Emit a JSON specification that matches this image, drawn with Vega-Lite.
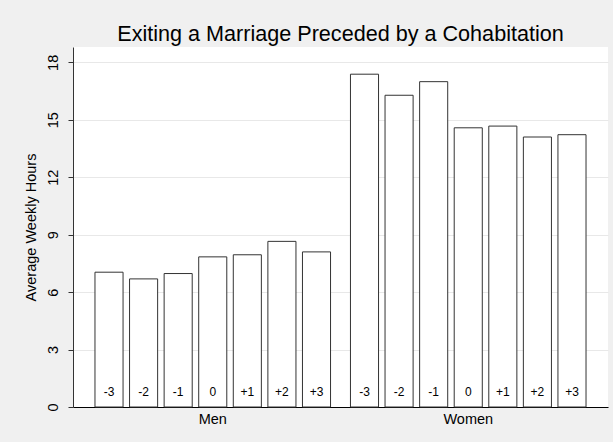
{
  "$schema": "https://vega.github.io/schema/vega-lite/v6.json",
  "width": 535,
  "height": 360,
  "autosize": {"type": "none"},
  "padding": {"left": 73, "top": 47, "right": 5, "bottom": 35},
  "background": "#F0F0F0",
  "view": {"fill": "white", "stroke": null},
  "title": {
    "text": "Exiting a Marriage Preceded by a Cohabitation",
    "font": "Liberation Sans",
    "fontSize": 21.6,
    "fontWeight": "normal",
    "color": "#000000",
    "anchor": "middle",
    "offset": 1
  },
  "config": {
    "font": "Liberation Sans"
  },
  "data": {
    "values": [
      {"sex": "Men", "period": "-3", "hours": 7.04},
      {"sex": "Men", "period": "-2", "hours": 6.69},
      {"sex": "Men", "period": "-1", "hours": 6.97},
      {"sex": "Men", "period": "0", "hours": 7.84},
      {"sex": "Men", "period": "+1", "hours": 7.95},
      {"sex": "Men", "period": "+2", "hours": 8.65},
      {"sex": "Men", "period": "+3", "hours": 8.10},
      {"sex": "Women", "period": "-3", "hours": 17.38},
      {"sex": "Women", "period": "-2", "hours": 16.28},
      {"sex": "Women", "period": "-1", "hours": 16.99},
      {"sex": "Women", "period": "0", "hours": 14.58},
      {"sex": "Women", "period": "+1", "hours": 14.67},
      {"sex": "Women", "period": "+2", "hours": 14.10},
      {"sex": "Women", "period": "+3", "hours": 14.22}
    ]
  },
  "encoding": {
    "x": {
      "field": "sex",
      "type": "nominal",
      "scale": {"paddingInner": 0.078, "paddingOuter": 0.086},
      "axis": {
        "title": null,
        "labelAngle": 0,
        "labelFontSize": 14.5,
        "labelColor": "#000000",
        "labelPadding": 5,
        "ticks": false,
        "domainColor": "#000000",
        "domainWidth": 1
      }
    },
    "xOffset": {
      "field": "period",
      "type": "nominal",
      "sort": ["-3", "-2", "-1", "0", "+1", "+2", "+3"],
      "scale": {"paddingInner": 0.188, "paddingOuter": 0}
    }
  },
  "layer": [
    {
      "mark": {"type": "bar", "fill": "white", "stroke": "#333333", "strokeWidth": 1},
      "encoding": {
        "y": {
          "field": "hours",
          "type": "quantitative",
          "scale": {"domain": [0, 18.8], "nice": false},
          "axis": {
            "title": "Average Weekly Hours",
            "titleFontSize": 14.5,
            "titleFontWeight": "normal",
            "titleColor": "#000000",
            "titlePadding": 7,
            "values": [0, 3, 6, 9, 12, 15, 18],
            "labelAngle": -90,
            "labelFontSize": 14.5,
            "labelColor": "#000000",
            "labelPadding": 8,
            "tickSize": 5,
            "tickColor": "#333333",
            "domainColor": "#333333",
            "grid": true,
            "gridColor": "#E8E8E8",
            "gridWidth": 1
          }
        }
      }
    },
    {
      "mark": {"type": "text", "fontSize": 12, "fill": "#000000", "dy": -15, "baseline": "middle"},
      "encoding": {
        "y": {"datum": 0, "type": "quantitative"},
        "text": {"field": "period", "type": "nominal"}
      }
    }
  ]
}
